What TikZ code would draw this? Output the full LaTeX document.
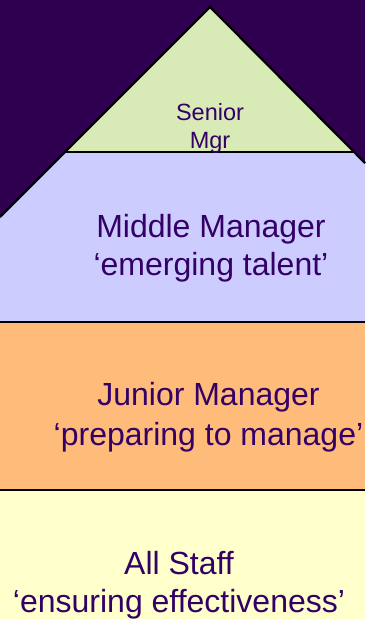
\documentclass[tikz,border=0pt]{standalone}
\usepackage{fontspec}
\setmainfont{Liberation Sans}
\definecolor{bgpurple}{RGB}{48,0,80}
\definecolor{txtpurple}{RGB}{51,0,102}
\definecolor{tiergreen}{RGB}{216,234,181}
\definecolor{tierlav}{RGB}{204,204,255}
\definecolor{tierorange}{RGB}{255,187,122}
\definecolor{tieryellow}{RGB}{255,255,204}
\tikzset{
  edge/.style={draw=black,line width=2.2pt,line join=miter},
  big/.style={text=txtpurple,font=\fontsize{32}{38}\selectfont,anchor=base,inner sep=0pt},
  small/.style={text=txtpurple,font=\fontsize{23.5}{28}\selectfont,anchor=base,inner sep=0pt}
}
\begin{document}
\begin{tikzpicture}[x=1pt,y=-1pt]
\useasboundingbox (0,0) rectangle (365,619);
\fill[bgpurple] (0,0) rectangle (365,619);
\coordinate (apex) at (210,7);
\coordinate (gl) at (65,152);
\coordinate (gr) at (354,152);
\coordinate (el) at (0,217);
\coordinate (er) at (365,163);
% tiers
\fill[tierlav] (gl) -- (gr) -- (er) -- (365,322) -- (0,322) -- (el) -- cycle;
\fill[tierorange] (0,322) rectangle (365,490);
\fill[tieryellow] (0,490) rectangle (365,619);
\fill[tiergreen] (apex) -- (gr) -- (gl) -- cycle;
% outlines
\draw[edge] (el) -- (apex) -- (er);
\draw[edge] (gl) -- (gr);
\draw[edge] (0,322) -- (365,322);
\draw[edge] (0,490) -- (365,490);
% labels
\node[small] (s1) at (210,120) {Senior};
\node[small] (s2) at (210,148) {Mgr};
\node[big] (m1) at (211,237) {Middle Manager};
\node[big] (m2) at (211,275) {`emerging talent'};
\node[big] (j1) at (208.5,405) {Junior Manager};
\node[big] (j2) at (208.5,445) {`preparing to manage'};
\node[big] (a1) at (179,574) {All Staff};
\node[big] (a2) at (179,612) {`ensuring effectiveness'};
\end{tikzpicture}
\end{document}
